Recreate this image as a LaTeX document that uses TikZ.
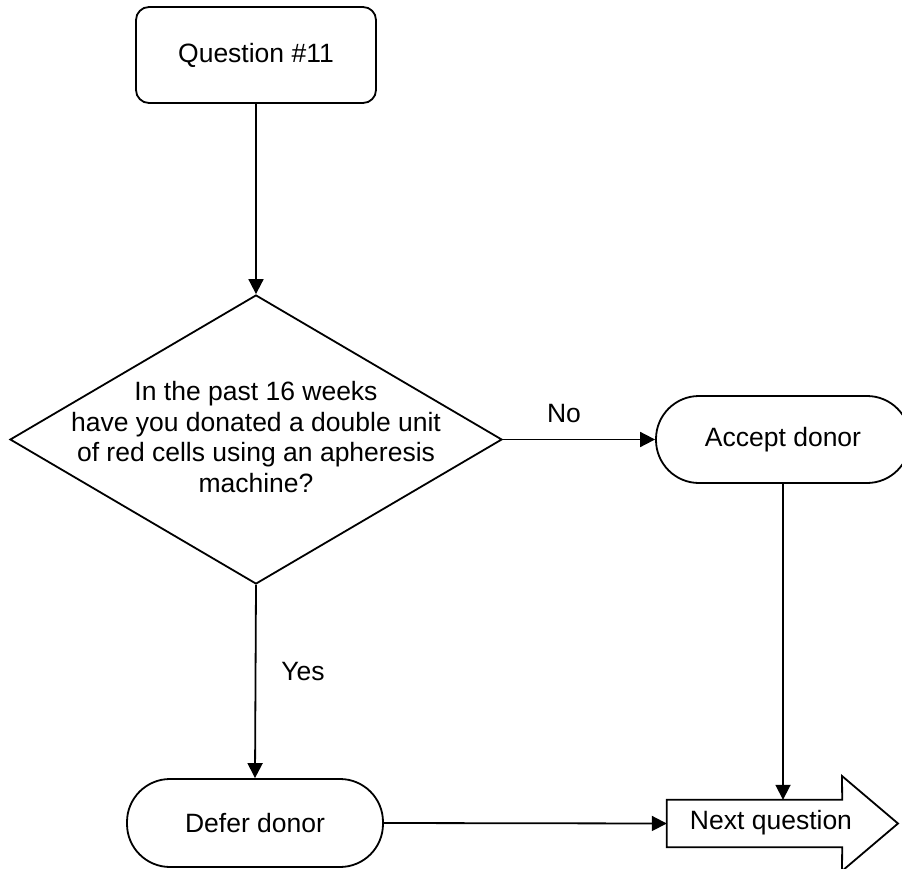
\documentclass[tikz,border=0pt]{standalone}
\usepackage{fontspec}
\setmainfont{Liberation Sans}
\usetikzlibrary{arrows.meta,shapes.geometric}
\begin{document}
\begin{tikzpicture}[x=1pt,y=-1pt,
  every node/.style={font=\fontsize{26.5}{30.5}\selectfont},
  line/.style={line width=1.8pt},
  arr/.style={line, -{Triangle[width=15pt,length=15pt]}},
  stadium/.style={draw, line width=1.8pt, rounded corners=43pt, minimum height=87pt, inner sep=0pt},
  lbl/.style={inner sep=0pt}]
\useasboundingbox (0,0) rectangle (902,869);
\clip (0,0) rectangle (902,869);
\fill[white] (0,0) rectangle (902,869);
% nodes
\node[draw, line, rounded corners=13pt, minimum width=240pt, minimum height=96pt, inner sep=0pt] (q11) at (256,55) {Question \#11};
\node[draw, line, diamond, minimum width=492pt, minimum height=289pt, inner sep=0pt, aspect=1.7] (dia) at (256,439.5) {};
\node[align=center, inner sep=0pt] (diatext) at (256,437) {In the past 16 weeks\\have you donated a double unit\\of red cells using an apheresis\\machine?};
\node[stadium, minimum width=254pt] (accept) at (783,439.5) {Accept donor};
\node[stadium, minimum width=256pt, minimum height=88pt] (defer) at (255,823) {Defer donor};
\node[minimum width=175pt, minimum height=47pt, inner sep=0pt] (nextbody) at (754.5,823.5) {};
\draw[line, line join=miter] (nextbody.north west) -- (nextbody.north east) -- (842,776) -- (898,823.5) -- (842,871) -- (nextbody.south east) -- (nextbody.south west) -- cycle;
\node[lbl] (nexttext) at (771,823) {Next question};
% connectors
\draw[arr] (q11.south) -- (dia.north);
\draw[arr] (dia.east) -- (accept.west);
\draw[arr] (dia.south) -- (defer.north);
\draw[arr] (accept.south) -- (accept.south |- nextbody.north);
\draw[arr] (defer.east) -- (nextbody.west);
% labels
\node[lbl] (no) at (564,414) {No};
\node[lbl] (yes) at (303,672) {Yes};
\end{tikzpicture}
\end{document}
